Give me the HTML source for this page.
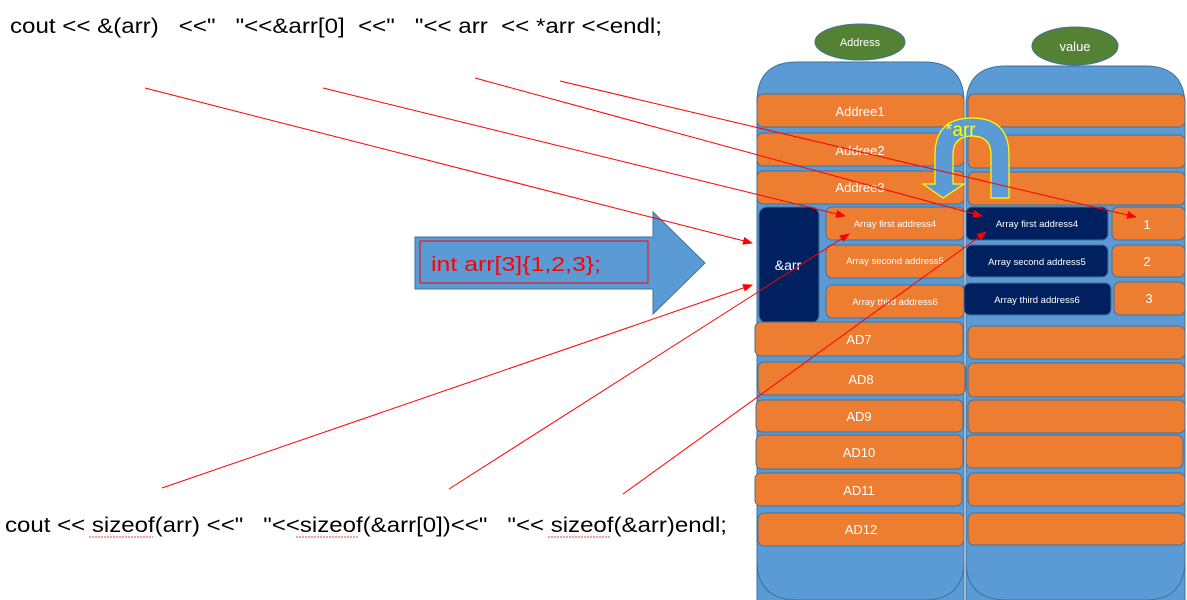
<!DOCTYPE html>
<html><head><meta charset="utf-8"><style>
html,body{margin:0;padding:0;background:#fff;width:1187px;height:600px;overflow:hidden}
svg{display:block;font-family:"Liberation Sans",sans-serif}
.o{fill:#ed7d31;stroke:#41719c;stroke-width:1}
.d{fill:#002060;stroke:#41719c;stroke-width:1}
.w{fill:#fff;text-anchor:middle}
</style></head><body>
<svg width="1187" height="600" viewBox="0 0 1187 600">
<defs>
<marker id="ah" markerWidth="10" markerHeight="8" refX="9" refY="4" orient="auto" markerUnits="userSpaceOnUse">
<path d="M0,0 L10,4 L0,8 z" fill="#ff0000"/></marker>
</defs>
<!-- columns -->
<path d="M757,612 L757,102 Q757,62 797,62 L924,62 Q964,62 964,102 L964,612 Z" fill="#5b9bd5" stroke="#41719c"/>
<path d="M966,612 L966,106 Q966,66 1006,66 L1145,66 Q1185,66 1185,106 L1185,612 Z" fill="#5b9bd5" stroke="#41719c"/>
<path d="M757,560 Q757,600 797,600 L924,600 Q964,600 964,560" fill="#5b9bd5" stroke="#41719c"/>
<path d="M966,560 Q966,600 1006,600 L1145,600 Q1185,600 1185,560" fill="#5b9bd5" stroke="#41719c"/>
<ellipse cx="860" cy="42" rx="45" ry="18" fill="#548235" stroke="#41719c"/>
<text x="860" y="46" class="w" font-size="11">Address</text>
<ellipse cx="1075" cy="46" rx="43" ry="19" fill="#548235" stroke="#41719c"/>
<text x="1075" y="51" class="w" font-size="13">value</text>
<!-- left rows -->
<rect class="o" x="757" y="94" width="207" height="33" rx="6"/><text class="w" x="860" y="116" font-size="13">Addree1</text>
<rect class="o" x="757" y="133" width="207" height="33" rx="6"/><text class="w" x="860" y="155" font-size="13">Addree2</text>
<rect class="o" x="757" y="171" width="207" height="33" rx="6"/><text class="w" x="860" y="192" font-size="13">Addree3</text>
<rect class="d" x="759" y="207" width="60" height="116" rx="8"/><text class="w" x="788" y="270" font-size="14">&amp;arr</text>
<rect class="o" x="826" y="207" width="138" height="33" rx="6"/><text class="w" x="895" y="227" font-size="9.5">Array first address4</text>
<rect class="o" x="826" y="245" width="138" height="33" rx="6"/><text class="w" x="895" y="264" font-size="9.5">Array second address5</text>
<rect class="o" x="826" y="285" width="138" height="33" rx="6"/><text class="w" x="895" y="305" font-size="9.5">Array third address6</text>
<rect class="o" x="755" y="322" width="208" height="34" rx="6"/><text class="w" x="859" y="344" font-size="13">AD7</text>
<rect class="o" x="758" y="362" width="207" height="33" rx="6"/><text class="w" x="861" y="384" font-size="13">AD8</text>
<rect class="o" x="756" y="400" width="207" height="32" rx="6"/><text class="w" x="859" y="421" font-size="13">AD9</text>
<rect class="o" x="756" y="435" width="207" height="34" rx="6"/><text class="w" x="859" y="457" font-size="13">AD10</text>
<rect class="o" x="755" y="473" width="207" height="33" rx="6"/><text class="w" x="859" y="495" font-size="13">AD11</text>
<rect class="o" x="758" y="513" width="206" height="33" rx="6"/><text class="w" x="861" y="534" font-size="13">AD12</text>
<!-- right rows -->
<rect class="o" x="968" y="94" width="217" height="33" rx="6"/>
<rect class="o" x="968" y="135" width="217" height="33" rx="6"/>
<rect class="o" x="968" y="172" width="217" height="33" rx="6"/>
<rect class="d" x="966" y="207" width="142" height="33" rx="6"/><text class="w" x="1037" y="227" font-size="9.5">Array first address4</text>
<rect class="o" x="1112" y="207" width="73" height="33" rx="6"/><text class="w" x="1147" y="229" font-size="13">1</text>
<rect class="d" x="966" y="245" width="142" height="32" rx="6"/><text class="w" x="1037" y="265" font-size="9.5">Array second address5</text>
<rect class="o" x="1112" y="245" width="73" height="32" rx="6"/><text class="w" x="1147" y="266" font-size="13">2</text>
<rect class="d" x="964" y="283" width="147" height="32" rx="6"/><text class="w" x="1037" y="303" font-size="9.5">Array third address6</text>
<rect class="o" x="1114" y="282" width="71" height="33" rx="6"/><text class="w" x="1149" y="303" font-size="13">3</text>
<rect class="o" x="968" y="326" width="217" height="33" rx="6"/>
<rect class="o" x="968" y="363" width="217" height="34" rx="6"/>
<rect class="o" x="968" y="400" width="217" height="33" rx="6"/>
<rect class="o" x="966" y="435" width="217" height="33" rx="6"/>
<rect class="o" x="968" y="473" width="217" height="33" rx="6"/>
<rect class="o" x="968" y="513" width="217" height="32" rx="6"/>
<!-- U arrow -->
<path d="M1009,198 L1009,155 Q1009,118 972,118 Q935,118 935,155 L935,184 L923,184 L943,198 L964,184 L953,184 L953,155 Q953,136 972,136 Q991,136 991,155 L991,198 Z" fill="#5b9bd5" stroke="#ffff00" stroke-width="1.2"/>
<text x="945" y="136" fill="#ffff00" font-size="19">*arr</text>
<!-- big arrow -->
<path d="M415,237 L653,237 L653,212 L705,263 L653,314 L653,289 L415,289 Z" fill="#5b9bd5" stroke="#41719c"/>
<rect x="420" y="241" width="228" height="42" fill="none" stroke="#ff0000" stroke-width="1"/>
<text x="431" y="271" fill="#ff0000" font-size="20" textLength="170" lengthAdjust="spacingAndGlyphs">int arr[3]{1,2,3};</text>
<!-- red lines -->
<g stroke="#ff0000" stroke-width="1" fill="none" marker-end="url(#ah)">
<line x1="145" y1="88" x2="752" y2="243"/>
<line x1="323" y1="88" x2="845" y2="216"/>
<line x1="475" y1="78" x2="982" y2="216"/>
<line x1="560" y1="81" x2="1136" y2="217"/>
<line x1="162" y1="488" x2="752" y2="285"/>
<line x1="449" y1="489" x2="849" y2="234"/>
<line x1="623" y1="494" x2="986" y2="232"/>
</g>
<!-- code text -->
<text x="10" y="33" font-size="21" fill="#000" textLength="652" lengthAdjust="spacingAndGlyphs" xml:space="preserve">cout &lt;&lt; &amp;(arr)   &lt;&lt;"   "&lt;&lt;&amp;arr[0]  &lt;&lt;"   "&lt;&lt; arr  &lt;&lt; *arr &lt;&lt;endl;</text>
<text x="5" y="532" font-size="21" fill="#000" textLength="722" lengthAdjust="spacingAndGlyphs" xml:space="preserve">cout &lt;&lt; sizeof(arr) &lt;&lt;"   "&lt;&lt;sizeof(&amp;arr[0])&lt;&lt;"   "&lt;&lt; sizeof(&amp;arr)endl;</text>
<g stroke="#ff0000" stroke-width="0.8" fill="none" stroke-dasharray="2,1">
<line x1="89" y1="537" x2="153" y2="537"/>
<line x1="296" y1="537" x2="358" y2="537"/>
<line x1="548" y1="537" x2="610" y2="537"/>
</g>
</svg>
</body></html>
